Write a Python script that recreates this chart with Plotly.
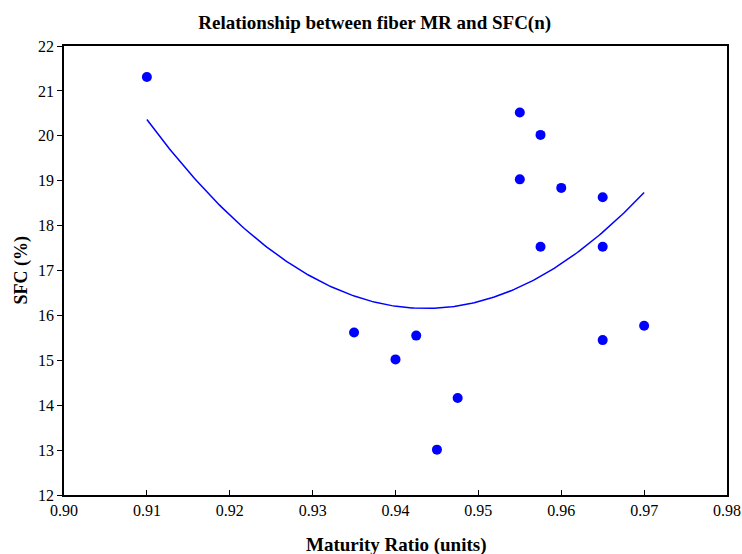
import numpy as np
import plotly.graph_objects as go

mr = [0.910, 0.955, 0.9575, 0.955, 0.960, 0.965, 0.9575, 0.965, 0.970, 0.965,
      0.935, 0.9425, 0.940, 0.9475, 0.945]
sfc = [21.31, 20.52, 20.02, 19.03, 18.84, 18.63, 17.53, 17.53, 15.77, 15.45,
       15.62, 15.55, 15.02, 14.16, 13.01]

x_ticks = [0.90, 0.91, 0.92, 0.93, 0.94, 0.95, 0.96, 0.97, 0.98]
x_tick_labels = ["0.90", "0.91", "0.92", "0.93", "0.94", "0.95", "0.96", "0.97", "0.98"]
y_ticks = list(range(12, 23))

coef = np.polyfit(mr, sfc, 2)
xf = np.linspace(min(mr), max(mr), 200)
yf = np.polyval(coef, xf)

W, H = 742, 554
font = "Liberation Serif, Times New Roman, serif"
fig = go.Figure()
fig.add_trace(go.Scatter(x=xf, y=yf, mode="lines",
                         line=dict(color="#0000ff", width=1.5), showlegend=False))
fig.add_trace(go.Scatter(x=mr, y=sfc, mode="markers",
                         marker=dict(color="#0000ff", size=10), showlegend=False))

fig.update_layout(
    width=W, height=H,
    paper_bgcolor="white", plot_bgcolor="white",
    margin=dict(l=64, r=15, t=46, b=59, autoexpand=False),
    font=dict(family=font, size=16, color="black"),
    title=dict(text="<b>Relationship between fiber MR and SFC(n)</b>",
               x=0.505, xanchor="center", y=1 - 22 / H, yanchor="middle",
               font=dict(family=font, size=19, color="black")),
    annotations=[
        dict(text="<b>Maturity Ratio (units)</b>", xref="paper", yref="paper",
             x=0.5, y=0, yshift=-50, xanchor="center", yanchor="middle",
             showarrow=False, font=dict(family=font, size=19)),
        dict(text="<b>SFC (%)</b>", xref="paper", yref="paper",
             x=0, y=0.5, xshift=-43, xanchor="center", yanchor="middle",
             textangle=-90, showarrow=False, font=dict(family=font, size=18)),
    ],
)
fig.update_xaxes(range=[0.90, 0.98], tickvals=x_ticks, ticktext=x_tick_labels,
                 ticks="inside", ticklen=5, tickcolor="black", automargin=False,
                 showline=True, linecolor="black", linewidth=1.5, mirror=True,
                 showgrid=False, zeroline=False)
fig.update_yaxes(range=[12, 22], tickvals=y_ticks, automargin=False,
                 ticks="outside", ticklen=5, tickcolor="black",
                 showline=True, linecolor="black", linewidth=1.5, mirror=True,
                 showgrid=False, zeroline=False)

fig.write_html("out.html", config={"displayModeBar": False},
               post_script="document.body.style.margin='0';"
                           "document.body.style.overflow='hidden';")
